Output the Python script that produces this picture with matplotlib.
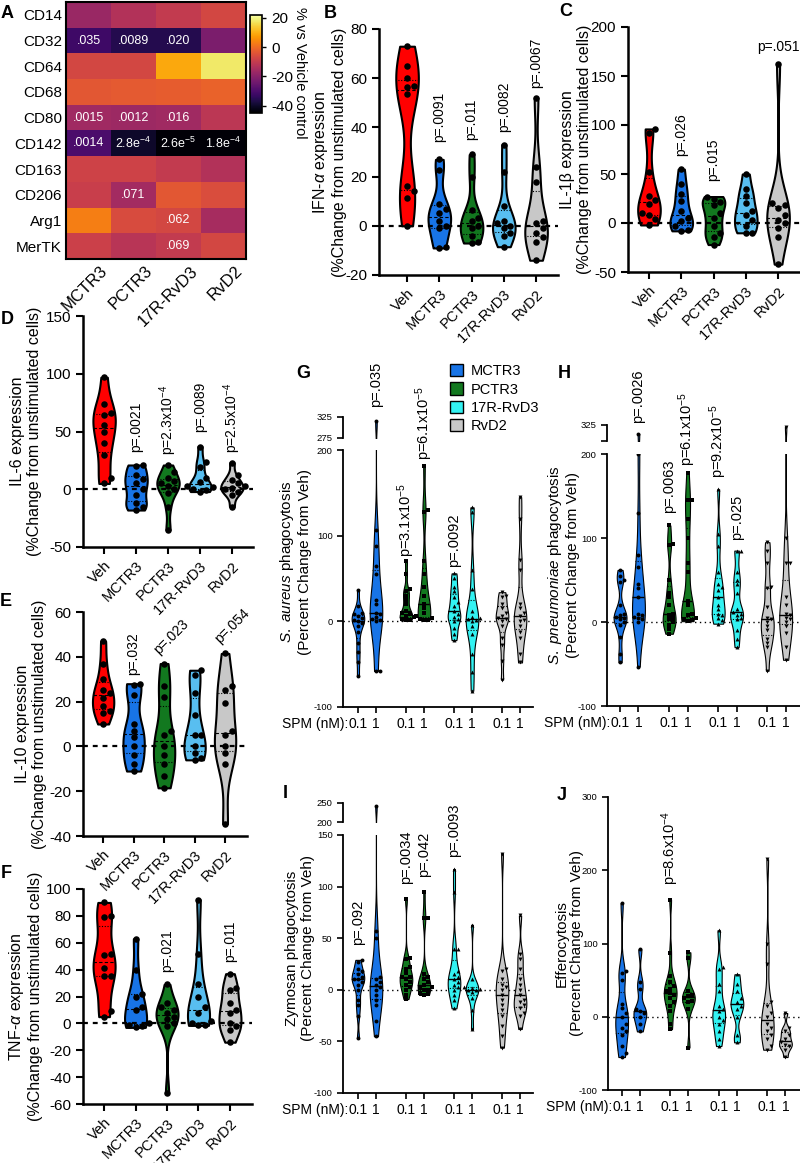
import numpy as np
import matplotlib
matplotlib.use('Agg')
import matplotlib.pyplot as plt
from matplotlib.patches import Patch

plt.rcParams['font.family'] = ['Liberation Sans', 'DejaVu Sans']
plt.rcParams['mathtext.fontset'] = 'custom'
plt.rcParams['mathtext.rm'] = 'Liberation Sans'
plt.rcParams['mathtext.it'] = 'Liberation Sans:italic'
plt.rcParams['mathtext.bf'] = 'Liberation Sans:bold'
plt.rcParams['axes.unicode_minus'] = False

W, H = 800, 1163

# ---------------- data ----------------
# A: surface markers, % vs vehicle
markers = ['CD14', 'CD32', 'CD64', 'CD68', 'CD80', 'CD142', 'CD163', 'CD206', 'Arg1', 'MerTK']
spms = ['MCTR3', 'PCTR3', '17R-RvD3', 'RvD2']
heat = np.array([
    [-17, -13, -10, -7],
    [-32, -36, -36, -22],
    [-7, -7, 9, 18],
    [-3.5, -3, -2.5, -1.5],
    [-16, -16.5, -16, -11.5],
    [-30, -40, -44, -44],
    [-8, -8, -10, -13],
    [-9, -15.5, -3.5, -5.5],
    [3, -6, -7, -15],
    [-8.5, -12, -10, -7],
])
heat_p = [
    ['', '', '', ''],
    ['.035', '.0089', '.020', ''],
    ['', '', '', ''],
    ['', '', '', ''],
    ['.0015', '.0012', '.016', ''],
    ['.0014', '2.8e$^{-4}$', '2.6e$^{-5}$', '1.8e$^{-4}$'],
    ['', '', '', ''],
    ['', '.071', '', ''],
    ['', '', '.062', ''],
    ['', '', '.069', ''],
]

# B-F: cytokines, %change from unstimulated cells
groups = ['Veh', 'MCTR3', 'PCTR3', '17R-RvD3', 'RvD2']
ifn = [[73, 65, 60, 57, 56.5, 53.5, 16, 14, 11.5, 0],
       [27, 22.5, 9, 7, 5, 2, 0, -1, -8.5, -9],
       [29, 20, 6.5, 3, 2, 0, -1, -4, -6.5, -7],
       [33, 22, 8, 2, 1, 0, -1, -3, -4, -8.5],
       [52, 24, 18, 2, 1, -1, -3, -4.5, -6.5, -14]]
il1b = [[96, 92, 52, 28, 23, 19, 10, 8, 4.5, -2],
        [55, 40, 30, 22, 12, 5, 2, -3, -7, -8],
        [27, 25, 21, 18, 10, 5, -3, -10, -14, -22],
        [50, 35, 28, 20, 12, 8, 3, -3, -10, -10],
        [162, 20, 18, 15, 8, 3, 0, -5, -14, -42]]
il6 = [[97, 74, 66, 64, 56, 50, 40, 30, 10, 5],
       [21, 20, 12, 9, 5, 0, -5, -12, -15, -18],
       [21, 15, 10, 7, 5, 3, 0, -3, -15, -35],
       [37, 24, 19, 10, 6, 3, 2, 0, -1, -2],
       [23, 12, 8, 5, 3, 1, 0, -2, -5, -15]]
il10 = [[47, 37, 30, 25, 24, 21.5, 18, 16, 15, 10],
        [28, 27.5, 23, 10, 7, 4, 0, -4, -8, -11],
        [37, 27, 22, 7, 5, 0, -4, -8, -13, -18.5],
        [34, 32, 24, 14, 5, 5, 0, -3, -5, -6],
        [41.5, 27, 25, 19.5, 7, 5, 0, -3, -8, -34.5]]
tnf = [[90, 80, 79, 52, 51, 41, 35, 35, 9, 5],
       [63, 40, 22, 20, 12, 10, 0, -1, -2, -3],
       [29, 15, 12, 10, 8, 5, 3, 0, -2, -52],
       [92, 52, 29, 20, 12, 8, 2, 0, -1, -1.5],
       [37, 26, 25, 15, 10, 8, 0, -2, -5, -14]]
p_ifn = ['', 'p=.0091', 'p=.011', 'p=.0082', 'p=.0067']
p_il1b = ['', 'p=.026', 'p=.015', '', 'p=.051']
p_il6 = ['', 'p=.0021', 'p=2.3x10$^{-4}$', 'p=.0089', 'p=2.5x10$^{-4}$']
p_il10 = ['', 'p=.032', 'p=.023', '', 'p=.054']
p_tnf = ['', '', 'p=.021', '', 'p=.011']

# G-J: phagocytosis / efferocytosis, percent change from Veh (0.1 nM, 1 nM per SPM)
doses = ['0.1', '1']
saureus = [[37, 18, 10, 8, 6, 4, 2, 0, -2, -6, -13, -25, -36, -47, -64],
           [315, 107, 88, 65, 55, 25, 20, 10, 8, 5, 3, 2, 0, -58, -58],
           [70, 55, 38, 35, 30, 25, 20, 12, 10, 8, 6, 5, 3, 2, 1],
           [181, 130, 128, 70, 55, 40, 30, 20, 15, 10, 6, 4, 3, 2, 2],
           [56, 50, 40, 35, 28, 22, 18, 12, 8, 5, 3, 0, -8, -15, -22],
           [133, 128, 60, 38, 12, 5, 4, 3, 2, 0, -5, -15, -38, -59, -81],
           [34, 30, 28, 20, 15, 10, 6, 4, 3, 0, -5, -20, -28, -46, -68],
           [145, 120, 72, 60, 20, 15, 10, 6, 2, 0, -5, -12, -20, -38, -48]]
spneumo = [[62, 55, 50, 48, 20, 10, 8, 6, 5, 3, 0, -3, -18, -38, -48],
           [297, 200, 130, 80, 65, 45, 40, 30, 10, 8, 6, 5, 3, 0, -53],
           [115, 93, 92, 50, 35, 30, 20, 10, 8, 5, 3, 0, -3, -8, -14],
           [177, 145, 145, 123, 100, 70, 60, 25, 20, 10, 8, 5, 3, 2, 1],
           [158, 105, 90, 60, 45, 42, 38, 30, 20, 15, 10, 8, 5, 2, -2],
           [85, 85, 60, 50, 45, 35, 15, 12, 10, 8, 5, 3, -10, -20, -30],
           [95, 85, 70, 42, 40, 18, 5, 3, 0, -5, -10, -20, -25, -30, -58],
           [320, 100, 70, 70, 30, 20, 10, 8, 5, 3, 0, -5, -13, -30, -45]]
zymosan = [[29, 27, 20, 18, 15, 12, 10, 10, 8, 5, 0, -10, -15, -25, -47],
           [241, 57, 50, 12, 10, 8, 5, 3, 0, -5, -10, -15, -30, -45],
           [88, 31, 30, 22, 20, 16, 12, 12, 10, 8, 5, 3, 0, -5, -9],
           [95, 70, 70, 15, 12, 10, 8, 5, 3, 2, 0, 0, -3, -4, -5],
           [117, 95, 40, 40, 18, 15, 12, 10, 8, 5, 3, 0, -5, -10, -18],
           [63, 10, 3, 2, 1, 0, 0, -2, -8, -20, -38],
           [132, 20, 18, 10, 5, 3, 0, -5, -10, -15, -20, -25, -35, -45, -56],
           [72, 35, 30, 20, 10, 5, 0, -5, -10, -12, -15, -18, -22, -25, -38]]
effero = [[155, 62, 60, 50, 18, 12, 5, 0, -10, -15, -20, -25, -40, -50, -55],
          [92, 48, 38, 10, 8, 5, 0, -10, -20],
          [160, 87, 55, 48, 42, 38, 35, 32, 30, 25, 20, 15, 8, -10, -17],
          [88, 80, 35, 30, 28, 25, 22, 20, 10, -42],
          [118, 68, 65, 45, 35, 15, 10, 8, 0, -5, -10, -20, -30, -40],
          [58, 45, 35, 25, 20, 15, 10, 0, -25, -35],
          [215, 100, 72, 20, 15, 5, 0, -10, -15, -20, -25, -30, -40, -45],
          [5, -15, -20, -25, -30, -35, -38, -40, -45, -55]]
p_saureus = ['', 'p=.035', 'p=3.1x10$^{-5}$', 'p=6.1x10$^{-5}$', 'p=.0092', '', '', '']
p_spneumo = ['', 'p=.0026', 'p=.0063', 'p=6.1x10$^{-5}$', 'p=9.2x10$^{-5}$', 'p=.025', '', '']
p_zymosan = ['p=.092', '', 'p=.0034', 'p=.042', 'p=.0093', '', '', '']
p_effero = ['', '', 'p=8.6x10$^{-4}$', '', '', '', '', '']

RED, BLUE, GREEN, LBLUE, CYAN, GRAY = '#FF0000', '#1874E6', '#12781F', '#58BEF0', '#33F2F2', '#C8C8C8'


def px_rect(x0, y0, x1, y1):
    return [x0 / W, 1 - y1 / H, (x1 - x0) / W, (y1 - y0) / H]


def swarm_x(ax, pos, vals, gap):
    vals = np.asarray(vals, float)
    pts = ax.transData.transform(np.column_stack([np.full(len(vals), pos), vals]))
    placed = []
    xs = np.empty(len(vals))
    for i in np.argsort(vals):
        x0, y0 = pts[i]
        for k in (0, 1, -1, 2, -2, 3, -3, 4, -4):
            xc = x0 + k * gap
            if all((xc - a) ** 2 + (y0 - b) ** 2 >= gap ** 2 for a, b in placed):
                break
        placed.append((xc, y0))
        xs[i] = xc
    return ax.transData.inverted().transform(np.column_stack([xs, pts[:, 1]]))[:, 0]


def violin(ax, pos, vals, color, width, edge_lw, bw, med_kw, q_kw):
    vals = np.asarray(vals, float)
    parts = ax.violinplot([vals], positions=[pos], widths=width, showextrema=False, bw_method=bw)
    body = parts['bodies'][0]
    body.set_facecolor(color)
    body.set_edgecolor('black')
    body.set_linewidth(edge_lw)
    body.set_alpha(1)
    body.set_zorder(2)
    q1, med, q3 = np.percentile(vals, [25, 50, 75])
    for q, kw in ((q1, q_kw), (med, med_kw), (q3, q_kw)):
        ln, = ax.plot([pos - width, pos + width], [q, q], color='black', zorder=3, **kw)
        ln.set_clip_path(body.get_paths()[0], ax.transData)


def draw_set(ax, positions, data, colors, mks, width, edge_lw, bw, med_kw, q_kw, size, gap):
    for pos, vals, col, mk in zip(positions, data, colors, mks):
        violin(ax, pos, vals, col, width, edge_lw, bw, med_kw, q_kw)
        xs = swarm_x(ax, pos, vals, gap)
        ax.scatter(xs, vals, s=size, c='black', marker=mk, linewidths=0, zorder=4)


fig = plt.figure(figsize=(W / 100, H / 100), dpi=100)

# ---------------- A: heatmap ----------------
axA = fig.add_axes(px_rect(66, 2, 246, 259))
im = axA.imshow(heat, cmap='inferno', vmin=-45, vmax=22, aspect='auto')
axA.set_yticks(range(len(markers)), markers, fontsize=11)
# tick marks are hidden, so the labels are anchored a little right of each column centre
axA.set_xticks(np.arange(len(spms)) + 0.25, spms, fontsize=12, rotation=45, ha='right',
               rotation_mode='anchor')
axA.tick_params(length=0, pad=3)
for sp in axA.spines.values():
    sp.set_linewidth(1.5)
for i, row in enumerate(heat_p):
    for j, s in enumerate(row):
        if s:
            axA.text(j, i, s, color='white', ha='center', va='center', fontsize=9)
cax = fig.add_axes(px_rect(250, 15, 262, 113))
cb = fig.colorbar(im, cax=cax, ticks=[20, 0, -20, -40])
cb.ax.tick_params(labelsize=11, length=3, width=1)
cb.outline.set_linewidth(1.2)
fig.text(300 / W, 1 - 73 / H, '% vs Vehicle control', rotation=270, fontsize=10.5,
         ha='center', va='center')

# ---------------- B-F: cytokine violins ----------------
cyto_colors = [RED, BLUE, GREEN, LBLUE, GRAY]
cyto_panels = [
    # rect, xlim, ylim, yticks, data, p labels, p y, p rotation, ylabel, label right edge
    ((379, 29, 558, 275), (-0.87, 4.68), (-20, 80), range(-20, 81, 20), ifn, p_ifn,
     [0, 34, 35, 38, 56], [90] * 5, 'IFN-$\\alpha$ expression', 347),
    ((628, 27, 800, 272), (-0.65, 4.68), (-50, 200), range(-50, 201, 50), il1b, p_il1b,
     [0, 68, 43, 0, 172], [90, 90, 90, 90, 0], 'IL-1β expression', 592),
    ((83, 316, 253, 547), (-0.66, 4.66), (-50, 150), range(-50, 151, 50), il6, p_il6,
     [0, 32, 30, 50, 31], [90] * 5, 'IL-6 expression', 42),
    ((83, 612, 247, 836), (-0.66, 4.72), (-40, 60), range(-40, 61, 20), il10, p_il10,
     [0, 32, 40, 0, 45], [90, 90, 45, 90, 45], 'IL-10 expression', 47),
    ((83, 889, 252, 1104), (-0.67, 4.70), (-60, 100), range(-60, 101, 20), tnf, p_tnf,
     [0, 0, 38, 0, 46], [90] * 5, 'TNF-$\\alpha$ expression', 43),
]
for rect, xlim, ylim, yt, data, plabs, py, prot, ylab, lab_x in cyto_panels:
    ax = fig.add_axes(px_rect(*rect))
    ax.patch.set_visible(False)
    ax.set_xlim(xlim)
    ax.set_ylim(ylim)
    ax.set_yticks(list(yt))
    ax.tick_params(axis='y', labelsize=11, length=5, width=1.5)
    ax.set_xticks(range(len(groups)), groups, rotation=45, ha='right', rotation_mode='anchor', fontsize=10.5)
    ax.tick_params(axis='x', length=5, width=1.5)
    for s in ('top', 'right'):
        ax.spines[s].set_visible(False)
    for s in ('left', 'bottom'):
        ax.spines[s].set_linewidth(1.8)
    ax.axhline(0, color='black', lw=1.6, ls=(0, (2.2, 2.2)), zorder=3.5)
    draw_set(ax, range(len(groups)), data, cyto_colors, ['o'] * 5, 0.7, 1.5, 0.45,
             dict(lw=0.8, ls=(0, (3, 2))), dict(lw=0.8, ls=(0, (1, 1.5))), 22, 6.5)
    for i, (s, y, r) in enumerate(zip(plabs, py, prot)):
        if not s:
            continue
        if r == 45:
            ax.text(i - 0.1, y, s, rotation=45, ha='left', va='bottom', rotation_mode='anchor', fontsize=10)
        else:
            ax.text(i, y, s, rotation=r, ha='center', va='bottom', fontsize=10)
    ax.set_ylabel(ylab + '\n(%Change from unstimulated cells)', fontsize=11.5, linespacing=1.15)
    ax.yaxis.set_label_coords(lab_x / W, 1 - (rect[1] + rect[3]) / 2 / H, transform=fig.transFigure)

# ---------------- G-J: phagocytosis violins ----------------
starts = np.array([0, 8 / 3, 16 / 3, 8])
positions = np.ravel(np.column_stack([starts, starts + 1]))
ph_colors = [BLUE, BLUE, GREEN, GREEN, CYAN, CYAN, GRAY, GRAY]
ph_marks = ['o', 'o', 's', 's', '^', '^', 'v', 'v']
ph_panels = [
    # rect, xlim, ylim, yticks, upper rect, upper ylim, upper tick labels, data, p, p y, ylabel, label x
    ((343, 450, 533, 707), (-0.83, 9.72), (-100, 200), range(-100, 201, 100),
     (343, 417, 533, 438), (275, 325), ['275', '325'], saureus, p_saureus,
     [0, 250, 75, 188, 63, 0, 0, 0], '$\\it{S.\\ aureus}$ phagocytosis', 312),
    ((607, 454, 800, 706), (-0.71, 9.78), (-100, 200), range(-100, 201, 100),
     (607, 425, 800, 441), (275, 325), ['', '325'], spneumo, p_spneumo,
     [0, 237, 130, 186, 171, 98, 0, 0], '$\\it{S.\\ pneumoniae}$ phagocytosis', 580),
    ((343, 835, 533, 1093), (-0.83, 9.72), (-100, 150), range(-100, 151, 50),
     (343, 803, 533, 822), (200, 250), ['200', '250'], zymosan, p_zymosan,
     [43, 0, 103, 109, 129, 0, 0, 0], 'Zymosan phagocytosis', 315),
    ((608, 797, 800, 1090), (-0.75, 9.8), (-100, 300), range(-100, 301, 100),
     None, None, None, effero, p_effero,
     [0, 0, 180, 0, 0, 0, 0, 0], 'Efferocytosis', 584),
]
med_kw = dict(lw=1.0, ls='-')
q_kw = dict(lw=0.8, ls=(0, (1, 1.5)))
for rect, xlim, ylim, yt, urect, uylim, ulabs, data, plabs, py, ylab, lab_x in ph_panels:
    ax = fig.add_axes(px_rect(*rect))
    ax.patch.set_visible(False)
    ax.set_xlim(xlim)
    ax.set_ylim(ylim)
    ax.set_yticks(list(yt))
    ax.tick_params(axis='y', labelsize=6.8, length=4, width=1.2)
    ax.set_xticks(positions, doses * 4, fontsize=10)
    ax.tick_params(axis='x', length=4, width=1.2, pad=3)
    for s in ('top', 'right'):
        ax.spines[s].set_visible(False)
    for s in ('left', 'bottom'):
        ax.spines[s].set_linewidth(1.3)
    ax.axhline(0, color='black', lw=1.0, ls=(0, (1, 2.5)), zorder=1)
    draw_set(ax, positions, data, ph_colors, ph_marks, 0.7, 0.8, 0.3, med_kw, q_kw, 8, 4)
    for pos, s, y in zip(positions, plabs, py):
        if s:
            ax.text(pos, y, s, rotation=90, ha='center', va='bottom', fontsize=10.5)
    ax.annotate('SPM (nM):', xy=(positions[0], 0), xycoords=('data', 'axes fraction'),
                xytext=(-7, -7), textcoords='offset points', ha='right', va='top', fontsize=10)
    top = rect[1]
    if urect is not None:
        axu = fig.add_axes(px_rect(*urect))
        axu.set_xlim(xlim)
        axu.set_ylim(uylim)
        axu.set_yticks(list(uylim), ulabs)
        axu.tick_params(axis='y', labelsize=6.8, length=4, width=1.2)
        axu.set_xticks([])
        for s in ('top', 'right', 'bottom'):
            axu.spines[s].set_visible(False)
        axu.spines['left'].set_linewidth(1.3)
        axu.patch.set_visible(False)
        draw_set(axu, positions, data, ph_colors, ph_marks, 0.7, 0.8, 0.3, med_kw, q_kw, 8, 4)
        top = urect[1]
    ax.set_ylabel(ylab + '\n(Percent Change from Veh)', fontsize=11, linespacing=1.15)
    ax.yaxis.set_label_coords(lab_x / W, 1 - (top + rect[3]) / 2 / H, transform=fig.transFigure)

fig.legend(handles=[Patch(facecolor=c, edgecolor='black', lw=1) for c in (BLUE, GREEN, CYAN, GRAY)],
           labels=spms, loc='upper left', bbox_to_anchor=(450 / W, 1 - 364 / H), frameon=False,
           fontsize=10.5, handlelength=0.9, handleheight=0.9, handletextpad=0.5,
           labelspacing=0.3, borderaxespad=0, borderpad=0)

# panel letters
for letter, x, y in [('A', 7, 13), ('B', 330, 13), ('C', 566, 12), ('D', 7, 320), ('E', 6, 601),
                     ('F', 6, 874), ('G', 303, 373), ('H', 564, 373), ('I', 285, 794), ('J', 562, 796)]:
    fig.text(x / W, 1 - y / H, letter, fontsize=13, fontweight='bold', ha='center', va='center')

fig.savefig('out.png', dpi=100)
